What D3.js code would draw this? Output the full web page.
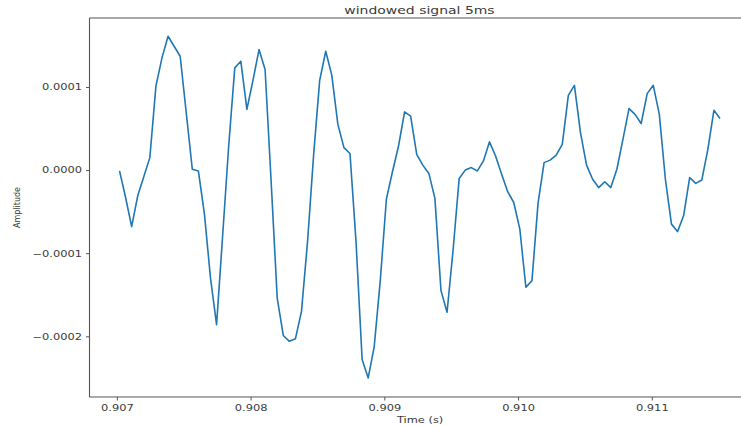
<!DOCTYPE html>
<html>
<head>
<meta charset="utf-8">
<script src="https://cdn.jsdelivr.net/npm/d3@7"></script>
<style>
  html, body { margin: 0; padding: 0; background: #fff; }
  svg { display: block; }
  text { font-family: "DejaVu Sans", sans-serif; fill: #3a3a3a; }
  .wide { transform-box: fill-box; transform: scaleX(1.27); }
</style>
</head>
<body>
<div id="chart"></div>
<script>
// Windowed speech segment: amplitude samples (in units of 1e-4) taken at 22.05 kHz
const sampleRate = 22050;
const startTime = 0.90702;
const amplitudeE4 = [
  -0.01, -0.33, -0.68, -0.31, -0.08, 0.15, 1.01, 1.35, 1.61, 1.49,
  1.37, 0.69, 0.01, -0.01, -0.53, -1.30, -1.86, -0.79, 0.29, 1.23,
  1.31, 0.73, 1.08, 1.45, 1.21, -0.14, -1.54, -1.99, -2.06, -2.03,
  -1.70, -0.86, 0.18, 1.08, 1.43, 1.14, 0.55, 0.27, 0.20, -0.87,
  -2.28, -2.50, -2.12, -1.32, -0.35, -0.02, 0.29, 0.70, 0.65, 0.19,
  0.06, -0.04, -0.34, -1.45, -1.71, -0.96, -0.10, 0.00, 0.03, -0.01,
  0.11, 0.34, 0.17, -0.05, -0.26, -0.39, -0.71, -1.41, -1.33, -0.40,
  0.09, 0.12, 0.18, 0.31, 0.90, 1.02, 0.45, 0.06, -0.11, -0.21,
  -0.14, -0.21, 0.01, 0.37, 0.74, 0.67, 0.56, 0.92, 1.02, 0.67,
  -0.11, -0.65, -0.74, -0.55, -0.09, -0.16, -0.12, 0.25, 0.72, 0.62
];
const xTickValues = [0.907, 0.908, 0.909, 0.910, 0.911];
const yTickValues = [-0.0002, -0.0001, 0.0000, 0.0001];

const samples = amplitudeE4.map((a, i) => ({ t: startTime + i / sampleRate, v: a * 1e-4 }));

const W = 741, H = 426;
const plot = { left: 89.5, right: 750, top: 18, bottom: 397 };

const svg = d3.select("#chart").append("svg")
  .attr("width", W).attr("height", H);

// axis limits padded by 5% of the data span on each side
const tExt = d3.extent(samples, d => d.t);
const vExt = d3.extent(samples, d => d.v);
const tPad = (tExt[1] - tExt[0]) * 0.05;
const vPad = (vExt[1] - vExt[0]) * 0.05;

const x = d3.scaleLinear().domain([tExt[0] - tPad, tExt[1] + tPad]).range([plot.left, plot.right]);
const y = d3.scaleLinear().domain([-0.000273, 0.000183]).range([plot.bottom, plot.top]);

// signal trace
svg.append("path")
  .datum(samples)
  .attr("fill", "none")
  .attr("stroke", "#1f77b4")
  .attr("stroke-width", 1.6)
  .attr("stroke-linejoin", "round")
  .attr("d", d3.line().x(d => x(d.t)).y(d => y(d.v)));

// axes
const fmtY = v => (v < 0 ? "\u2212" : "") + Math.abs(v).toFixed(4);
const xAxis = svg.append("g")
  .attr("transform", `translate(0,${plot.bottom})`)
  .call(d3.axisBottom(x).tickValues(xTickValues).tickFormat(d3.format(".3f")).tickSize(3.5).tickPadding(4));
const yAxis = svg.append("g")
  .attr("transform", `translate(${plot.left},0)`)
  .call(d3.axisLeft(y).tickValues(yTickValues).tickFormat(fmtY).tickSize(3.5).tickPadding(4));

[xAxis, yAxis].forEach(g => {
  g.select(".domain").remove();
  g.selectAll(".tick line").attr("stroke", "#555").attr("stroke-width", 1);
  g.selectAll(".tick text").attr("font-size", 9).attr("fill", "#3a3a3a")
    .attr("font-family", "DejaVu Sans, sans-serif").classed("wide", true);
});
xAxis.selectAll(".tick text").style("transform-origin", "center");
yAxis.selectAll(".tick text").style("transform-origin", "right center");

// spines: left, top and bottom
const spine = (x1, y1, x2, y2) => svg.append("line")
  .attr("x1", x1).attr("y1", y1).attr("x2", x2).attr("y2", y2)
  .attr("stroke", "#555").attr("stroke-width", 1.1);
spine(plot.left, plot.top, plot.left, plot.bottom);
spine(plot.left, plot.top, plot.right, plot.top);
spine(plot.left, plot.bottom, plot.right, plot.bottom);

// title and axis labels
svg.append("text")
  .attr("class", "wide").style("transform-origin", "center")
  .attr("x", 419.5).attr("y", 14)
  .attr("text-anchor", "middle").attr("font-size", 11)
  .text("windowed signal 5ms");

svg.append("text")
  .attr("class", "wide").style("transform-origin", "center")
  .attr("x", 420).attr("y", 423)
  .attr("text-anchor", "middle").attr("font-size", 9)
  .text("Time (s)");

svg.append("text")
  .attr("transform", `translate(20,${(plot.top + plot.bottom) / 2}) rotate(-90)`)
  .attr("text-anchor", "middle").attr("font-size", 8)
  .text("Amplitude");
</script>
</body>
</html>
